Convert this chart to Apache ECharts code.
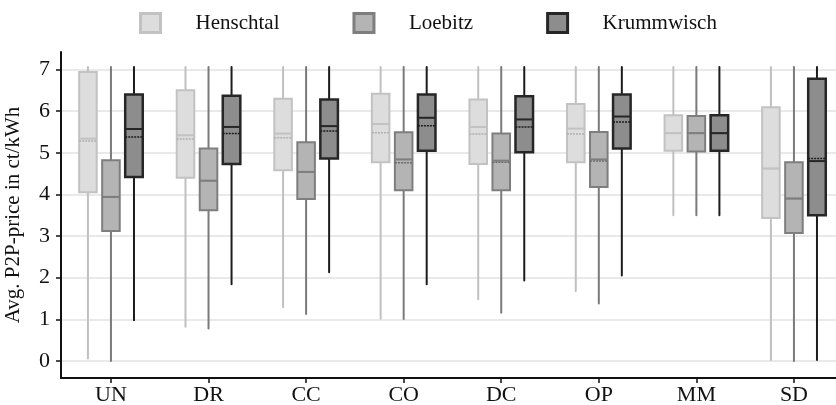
<!DOCTYPE html>
<html>
<head>
<meta charset="utf-8">
<script src="https://cdn.jsdelivr.net/npm/echarts@6/dist/echarts.min.js"></script>
<style>
html,body{margin:0;padding:0;background:#fff;}
#chart{width:836px;height:405px;}
</style>
</head>
<body>
<div id="chart"></div>
<script>
// Categories and tick labels
const categories = ['UN', 'DR', 'CC', 'CO', 'DC', 'OP', 'MM', 'SD'];
const yTicks = [0, 1, 2, 3, 4, 5, 6, 7];
const seriesNames = ['Henschtal', 'Loebitz', 'Krummwisch'];

// Box statistics per category: [lower whisker, Q1, median, Q3, upper whisker]
const henschtal = [
  [0.06, 4.05, 5.34, 6.94, 7.06],
  [0.82, 4.40, 5.42, 6.50, 7.06],
  [1.29, 4.58, 5.46, 6.30, 7.06],
  [1.02, 4.77, 5.69, 6.42, 7.06],
  [1.48, 4.73, 5.62, 6.28, 7.06],
  [1.68, 4.77, 5.58, 6.17, 7.06],
  [3.50, 5.05, 5.47, 5.90, 7.06],
  [0.02, 3.43, 4.62, 6.09, 7.06]
];
const loebitz = [
  [0.00, 3.12, 3.94, 4.82, 7.06],
  [0.78, 3.62, 4.33, 5.10, 7.06],
  [1.13, 3.89, 4.54, 5.25, 7.06],
  [1.01, 4.10, 4.84, 5.49, 7.06],
  [1.16, 4.10, 4.81, 5.46, 7.06],
  [1.38, 4.18, 4.84, 5.50, 7.06],
  [3.50, 5.03, 5.47, 5.88, 7.06],
  [0.00, 3.07, 3.90, 4.77, 7.06]
];
const krummwisch = [
  [0.98, 4.42, 5.57, 6.40, 7.06],
  [1.84, 4.73, 5.62, 6.37, 7.06],
  [2.13, 4.86, 5.64, 6.28, 7.06],
  [1.84, 5.05, 5.84, 6.40, 7.06],
  [1.93, 5.01, 5.80, 6.36, 7.06],
  [2.05, 5.10, 5.87, 6.40, 7.06],
  [3.50, 5.05, 5.47, 5.90, 7.06],
  [0.02, 3.50, 4.80, 6.78, 7.06]
];
// Means (dotted line in each box)
const henschtalMean = [5.28, 5.33, 5.36, 5.48, 5.45, 5.45, 5.47, 4.62];
const loebitzMean = [3.94, 4.33, 4.54, 4.76, 4.77, 4.80, 5.47, 3.90];
const krummwischMean = [5.38, 5.46, 5.52, 5.65, 5.62, 5.74, 5.47, 4.86];

const stats = [henschtal, loebitz, krummwisch];
const means = [henschtalMean, loebitzMean, krummwischMean];

const styles = [
  { fill: '#dddddd', border: '#c2c2c2', whisker: '#c0c0c0', mean: '#b0b0b0', bw: 2, ww: 2 },
  { fill: '#b4b4b4', border: '#7e7e7e', whisker: '#7a7a7a', mean: '#6a6a6a', bw: 2, ww: 2 },
  { fill: '#8d8d8d', border: '#262626', whisker: '#1c1c1c', mean: '#1c1c1c', bw: 2.5, ww: 2 }
];
const offsets = [-0.236, 0, 0.236];
const boxWidth = 0.18;

function makeRender(si) {
  const st = styles[si];
  return function (params, api) {
    const x = api.value(0) + offsets[si];
    const pLow = api.coord([x, api.value(1)]);
    const pQ1 = api.coord([x, api.value(2)]);
    const pMed = api.coord([x, api.value(3)]);
    const pQ3 = api.coord([x, api.value(4)]);
    const pHigh = api.coord([x, api.value(5)]);
    const pMean = api.coord([x, api.value(6)]);
    const hw = api.size([boxWidth, 0])[0] / 2;
    const cx = pQ1[0];
    return {
      type: 'group',
      children: [
        { type: 'line', shape: { x1: cx, y1: pLow[1], x2: cx, y2: pQ1[1] },
          style: { stroke: st.whisker, lineWidth: st.ww, lineCap: 'round' } },
        { type: 'line', shape: { x1: cx, y1: pQ3[1], x2: cx, y2: pHigh[1] },
          style: { stroke: st.whisker, lineWidth: st.ww, lineCap: 'round' } },
        { type: 'rect', shape: { x: cx - hw, y: pQ3[1], width: hw * 2, height: pQ1[1] - pQ3[1] },
          style: { fill: st.fill, stroke: st.border, lineWidth: st.bw } },
        { type: 'line', shape: { x1: cx - hw, y1: pMean[1], x2: cx + hw, y2: pMean[1] },
          style: { stroke: st.mean, lineWidth: 1.5, lineDash: [2, 1] } },
        { type: 'line', shape: { x1: cx - hw, y1: pMed[1], x2: cx + hw, y2: pMed[1] },
          style: { stroke: st.border, lineWidth: 2 } }
      ]
    };
  };
}

const series = seriesNames.map(function (name, si) {
  return {
    name: name,
    type: 'custom',
    renderItem: makeRender(si),
    itemStyle: { color: styles[si].fill, borderColor: styles[si].border, borderWidth: 3 },
    encode: { x: 0, y: [1, 2, 3, 4, 5] },
    data: stats[si].map(function (s, i) { return [i, s[0], s[1], s[2], s[3], s[4], means[si][i]]; }),
    z: 3
  };
});

const font = 'Liberation Serif';
const chart = echarts.init(document.getElementById('chart'), null, { renderer: 'canvas' });
chart.setOption({
  animation: false,
  backgroundColor: '#ffffff',
  textStyle: { fontFamily: font },
  legend: {
    top: 12,
    left: 139,
    padding: 0,
    itemWidth: 20,
    itemHeight: 19,
    itemGap: 73,
    textStyle: { fontFamily: font, fontSize: 21, color: '#111', padding: [0, 0, 0, 30] },
    data: seriesNames.map(function (n, si) {
      return { name: n, icon: 'rect',
        itemStyle: { color: styles[si].fill, borderColor: styles[si].border, borderWidth: 3 } };
    })
  },
  grid: { left: 61, right: 0, top: 52, bottom: 27, containLabel: false, outerBoundsMode: 'none' },
  xAxis: {
    type: 'value',
    min: -0.512,
    max: 7.431,
    splitLine: { show: false },
    axisLine: { show: true, onZero: false, lineStyle: { color: '#111', width: 2 } },
    axisTick: { show: true, customValues: categories.map(function (c, i) { return i; }), length: 5, lineStyle: { color: '#111', width: 1.5 } },
    axisLabel: {
      customValues: categories.map(function (c, i) { return i; }),
      formatter: function (v) { return categories[Math.round(v)]; },
      fontFamily: font, fontSize: 22, color: '#111', margin: 6
    }
  },
  yAxis: {
    type: 'value',
    min: -0.41,
    max: 7.42,
    name: 'Avg. P2P-price in ct/kWh',
    nameLocation: 'middle',
    nameGap: 37,
    nameRotate: 90,
    nameTextStyle: { fontFamily: font, fontSize: 21, color: '#111' },
    axisLine: { show: true, onZero: false, lineStyle: { color: '#111', width: 2 } },
    axisTick: { show: true, customValues: yTicks, length: 5, lineStyle: { color: '#111', width: 1.5 } },
    axisLabel: { customValues: yTicks, fontFamily: font, fontSize: 22, color: '#111', margin: 11 },
    splitLine: { show: true, lineStyle: { color: '#e2e2e2', width: 1.5 } }
  },
  series: series
});
</script>
</body>
</html>
